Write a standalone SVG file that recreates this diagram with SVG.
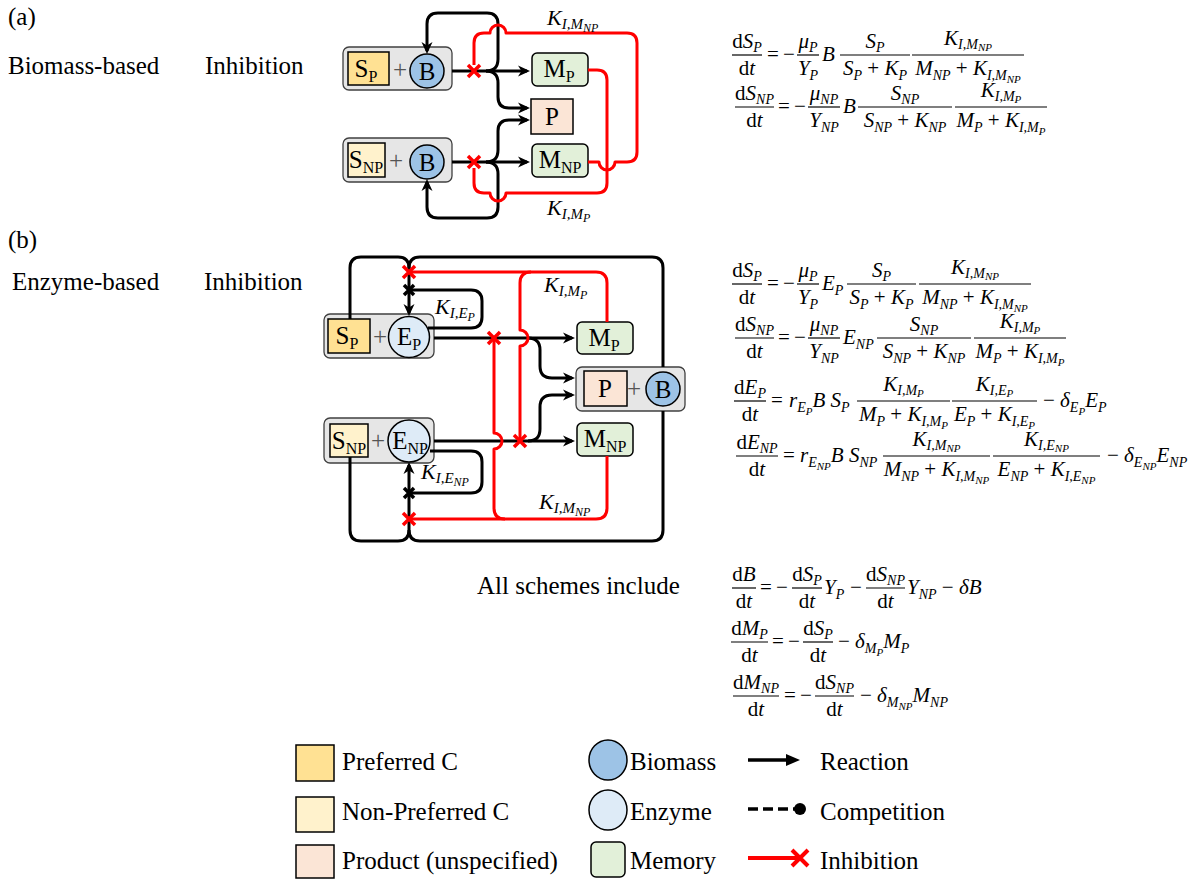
<svg xmlns="http://www.w3.org/2000/svg" width="1197" height="879" viewBox="0 0 1197 879">
<style>
.ln{fill:none;stroke:#000;stroke-width:3;stroke-linejoin:round}
.rd{fill:none;stroke:#f00;stroke-width:3;stroke-linejoin:round}
.xr{fill:none;stroke:#f00;stroke-width:3.5}
.xb{fill:none;stroke:#000;stroke-width:3.5}
.gb{fill:#e6e6e6;stroke:#404040;stroke-width:1.3}
.sp{fill:#ffe193;stroke:#000;stroke-width:1.5}
.snp{fill:#fff2cc;stroke:#000;stroke-width:1.5}
.pr{fill:#fbe5d6;stroke:#000;stroke-width:1.5}
.bm{fill:#9dc3e6;stroke:#000;stroke-width:1.5}
.ez{fill:#deebf7;stroke:#000;stroke-width:1.5}
.me{fill:#e2f0d9;stroke:#000;stroke-width:1.5}
.nl{font-family:"Liberation Serif",serif;font-size:25px;text-anchor:middle;fill:#000}
.ns{font-size:16px}
.pl{font-family:"Liberation Serif",serif;font-size:25px;text-anchor:middle;fill:#555}
.t{font-family:"Liberation Serif",serif;font-size:25px;fill:#000}
.m{font-family:"Liberation Serif",serif;font-size:21px;font-style:italic;fill:#000}
.k{font-family:"Liberation Serif",serif;font-size:22px;font-style:italic;fill:#000}
.ks{font-size:15px}
.kss{font-size:12px}
.c{text-anchor:middle}
.u{font-style:normal}
.s{font-size:14px}
.ss{font-size:11px}
.fb{stroke:#000;stroke-width:1.2}
</style>
<defs>
<marker id="ah" viewBox="0 0 12 12" refX="9" refY="6" markerWidth="12" markerHeight="12" markerUnits="userSpaceOnUse" orient="auto"><path d="M0,0.5 L12,6 L0,11.5 L3.5,6z" fill="#000"/></marker>
<path id="xx" d="M-6,-6 L6,6 M6,-6 L-6,6"/>
<path id="xs" d="M-5,-5 L5,5 M5,-5 L-5,5"/>
</defs>
<rect width="1197" height="879" fill="#fff"/>

<g id="labels">
<text class="t" x="8" y="25">(a)</text>
<text class="t" x="8" y="74">Biomass-based</text>
<text class="t" x="205" y="74">Inhibition</text>
<text class="t" x="8" y="248">(b)</text>
<text class="t" x="12" y="290">Enzyme-based</text>
<text class="t" x="204" y="290">Inhibition</text>
<text class="t" x="477" y="594">All schemes include</text>
</g>

<!-- ===== (a) nodes ===== -->
<g id="a-sp-b">
<rect class="gb" x="343" y="47" width="109" height="43" rx="6"/>
<rect class="sp" x="348" y="52" width="41" height="33"/>
<text class="nl" x="366" y="77">S<tspan class="ns" dy="5">P</tspan></text>
<text class="pl" x="400" y="78">+</text>
<circle class="bm" cx="427" cy="71" r="17"/>
<text class="nl" x="427" y="80">B</text>
</g>
<g id="a-snp-b">
<rect class="gb" x="343" y="138" width="109" height="44" rx="6"/>
<rect class="snp" x="348" y="143" width="37" height="34"/>
<text class="nl" x="366" y="168">S<tspan class="ns" dy="5">NP</tspan></text>
<text class="pl" x="396" y="169">+</text>
<circle class="bm" cx="427" cy="162" r="17"/>
<text class="nl" x="427" y="171">B</text>
</g>
<g id="a-mp">
<rect class="me" x="532" y="53" width="56" height="33" rx="5"/>
<text class="nl" x="559" y="77">M<tspan class="ns" dy="5">P</tspan></text>
</g>
<g id="a-p">
<rect class="pr" x="531" y="99" width="42" height="35"/>
<text class="nl" x="552" y="125">P</text>
</g>
<g id="a-mnp">
<rect class="me" x="532" y="144" width="56" height="33" rx="5"/>
<text class="nl" x="560" y="168">M<tspan class="ns" dy="5">NP</tspan></text>
</g>

<!-- ===== (b) nodes ===== -->
<g id="b-sp-ep">
<rect class="gb" x="324" y="314" width="110" height="44" rx="6"/>
<rect class="sp" x="328" y="319" width="42" height="34"/>
<text class="nl" x="347" y="344">S<tspan class="ns" dy="5">P</tspan></text>
<text class="pl" x="380" y="345">+</text>
<circle class="ez" cx="409" cy="337" r="20.5"/>
<text class="nl" x="409" y="345">E<tspan class="ns" dy="5">P</tspan></text>
</g>
<g id="b-snp-enp">
<rect class="gb" x="324" y="418" width="110" height="45" rx="6"/>
<rect class="snp" x="330" y="424" width="38" height="33"/>
<text class="nl" x="349" y="449">S<tspan class="ns" dy="5">NP</tspan></text>
<text class="pl" x="378" y="449">+</text>
<circle class="ez" cx="409" cy="441" r="21"/>
<text class="nl" x="410" y="449">E<tspan class="ns" dy="5">NP</tspan></text>
</g>
<g id="b-mp">
<rect class="me" x="577" y="322" width="56" height="32" rx="5"/>
<text class="nl" x="604" y="346">M<tspan class="ns" dy="5">P</tspan></text>
</g>
<g id="b-p-b">
<rect class="gb" x="576" y="367" width="109" height="44" rx="6"/>
<rect class="pr" x="584" y="371" width="43" height="35"/>
<text class="nl" x="605" y="397">P</text>
<text class="pl" x="634" y="397">+</text>
<circle class="bm" cx="663" cy="389" r="17"/>
<text class="nl" x="663" y="398">B</text>
</g>
<g id="b-mnp">
<rect class="me" x="577" y="423" width="56" height="33" rx="5"/>
<text class="nl" x="605" y="447">M<tspan class="ns" dy="5">NP</tspan></text>
</g>

<!-- ===== connectors ===== -->
<g id="connectors">
<path class="ln" d="M452,71 L527,71" marker-end="url(#ah)"/>
<path class="ln" d="M486,71 Q498,71 498,59 L498,24 Q498,13 487,13 L438,13 Q427,13 427,24 L427,51" marker-end="url(#ah)"/>
<path class="ln" d="M486,71 Q498,71 498,83 L498,97 Q498,108 509,108 L527,108" marker-end="url(#ah)"/>
<path class="ln" d="M452,162 L527,162" marker-end="url(#ah)"/>
<path class="ln" d="M486,162 Q498,162 498,150 L498,131 Q498,120 509,120 L527,120" marker-end="url(#ah)"/>
<path class="ln" d="M486,162 Q498,162 498,174 L498,207 Q498,218 487,218 L438,218 Q427,218 427,207 L427,182" marker-end="url(#ah)"/>
<path class="rd" d="M588,70 L597,70 Q607,70 607,80 L607,183 Q607,193 597,193 L506,193 A8,8 0 0 1 490,193 L484,193 Q474,193 474,183 L474,168"/>
<path class="rd" d="M588,162 L599,162 A8,8 0 0 0 615,162 L627,162 Q637,162 637,152 L637,43 Q637,33 627,33 L506,33 A8,8 0 0 0 490,33 L484,33 Q474,33 474,43 L474,65"/>
<use href="#xx" class="xr" x="474" y="71"/>
<use href="#xx" class="xr" x="474" y="162"/>

<path class="ln" d="M350,319 L350,268 Q350,257 361,257 L398,257 Q409,257 409,268"/>
<path class="ln" d="M663,367 L663,268 Q663,257 652,257 L420,257 Q409,257 409,268 L409,313" marker-end="url(#ah)"/>
<path class="ln" d="M350,457 L350,530 Q350,541 361,541 L398,541 Q409,541 409,530"/>
<path class="ln" d="M663,411 L663,530 Q663,541 652,541 L420,541 Q409,541 409,530 L409,465" marker-end="url(#ah)"/>
<path class="ln" d="M428,328 L471,328 Q482,328 482,317 L482,301 Q482,290 471,290 L409,290"/>
<path class="ln" d="M430,451 L471,451 Q482,451 482,462 L482,482 Q482,493 471,493 L409,493"/>
<path class="ln" d="M434,338 L572,338" marker-end="url(#ah)"/>
<path class="ln" d="M528,338 Q540,338 540,350 L540,366 Q540,378 552,378 L572,378" marker-end="url(#ah)"/>
<path class="ln" d="M434,441 L572,441" marker-end="url(#ah)"/>
<path class="ln" d="M528,441 Q540,441 540,429 L540,407 Q540,395 552,395 L572,395" marker-end="url(#ah)"/>
<path class="rd" d="M607,322 L607,283 Q607,272 596,272 L409,272"/>
<path class="rd" d="M531,272 Q520,272 520,283 L520,330 A8,8 0 0 1 520,346 L520,441"/>
<path class="rd" d="M607,456 L607,508 Q607,519 596,519 L409,519"/>
<path class="rd" d="M505,519 Q494,519 494,508 L494,449 A8,8 0 0 0 494,433 L494,338"/>
<use href="#xs" class="xb" x="409" y="290"/>
<use href="#xs" class="xb" x="409" y="493"/>
<use href="#xx" class="xr" x="409" y="272"/>
<use href="#xx" class="xr" x="409" y="519"/>
<use href="#xx" class="xr" x="494" y="338"/>
<use href="#xx" class="xr" x="520" y="441"/>

<text class="k" x="547" y="25">K<tspan class="ks" dy="4">I,M</tspan><tspan class="kss" dy="3">NP</tspan></text>
<text class="k" x="547" y="215">K<tspan class="ks" dy="4">I,M</tspan><tspan class="kss" dy="3">P</tspan></text>
<text class="k" x="435" y="314">K<tspan class="ks" dy="4">I,E</tspan><tspan class="kss" dy="3">P</tspan></text>
<text class="k" x="544" y="292">K<tspan class="ks" dy="4">I,M</tspan><tspan class="kss" dy="3">P</tspan></text>
<text class="k" x="421" y="479">K<tspan class="ks" dy="4">I,E</tspan><tspan class="kss" dy="3">NP</tspan></text>
<text class="k" x="539" y="509">K<tspan class="ks" dy="4">I,M</tspan><tspan class="kss" dy="3">NP</tspan></text>
</g>

<!-- ===== equations (a) ===== -->
<g id="eq-a">
<text class="m c" x="747" y="48"><tspan class="u">d</tspan>S<tspan class="s" dy="4">P</tspan></text>
<line class="fb" x1="732" y1="55" x2="762" y2="55"/>
<text class="m c" x="747" y="75"><tspan class="u">d</tspan>t</text>
<text class="m u" x="767" y="61">=</text>
<text class="m u" x="783" y="61">−</text>
<text class="m c" x="808" y="48">μ<tspan class="s" dy="4">P</tspan></text>
<line class="fb" x1="797" y1="55" x2="819" y2="55"/>
<text class="m c" x="808" y="75">Y<tspan class="s" dy="5">P</tspan></text>
<text class="m" x="822" y="61">B</text>
<text class="m c" x="875" y="48">S<tspan class="s" dy="4">P</tspan></text>
<line class="fb" x1="840" y1="55" x2="910" y2="55"/>
<text class="m c" x="875" y="75">S<tspan class="s" dy="5">P</tspan><tspan class="u" dy="-5"> + </tspan>K<tspan class="s" dy="5">P</tspan></text>
<text class="m c" x="968" y="45">K<tspan class="s" dy="4">I,M</tspan><tspan class="ss" dy="2">NP</tspan></text>
<line class="fb" x1="912" y1="55" x2="1024" y2="55"/>
<text class="m c" x="968" y="75">M<tspan class="s" dy="5">NP</tspan><tspan class="u" dy="-5"> + </tspan>K<tspan class="s" dy="5">I,M</tspan><tspan class="ss" dy="3">NP</tspan></text>

<text class="m c" x="754.5" y="100"><tspan class="u">d</tspan>S<tspan class="s" dy="4">NP</tspan></text>
<line class="fb" x1="735" y1="107" x2="774" y2="107"/>
<text class="m c" x="754.5" y="127"><tspan class="u">d</tspan>t</text>
<text class="m u" x="778" y="113">=</text>
<text class="m u" x="794" y="113">−</text>
<text class="m c" x="824" y="100">μ<tspan class="s" dy="4">NP</tspan></text>
<line class="fb" x1="808" y1="107" x2="840" y2="107"/>
<text class="m c" x="824" y="127">Y<tspan class="s" dy="5">NP</tspan></text>
<text class="m" x="843" y="113">B</text>
<text class="m c" x="905" y="100">S<tspan class="s" dy="4">NP</tspan></text>
<line class="fb" x1="858" y1="107" x2="952" y2="107"/>
<text class="m c" x="905" y="127">S<tspan class="s" dy="5">NP</tspan><tspan class="u" dy="-5"> + </tspan>K<tspan class="s" dy="5">NP</tspan></text>
<text class="m c" x="1001" y="97">K<tspan class="s" dy="4">I,M</tspan><tspan class="ss" dy="2">P</tspan></text>
<line class="fb" x1="955" y1="107" x2="1047" y2="107"/>
<text class="m c" x="1001" y="127">M<tspan class="s" dy="5">P</tspan><tspan class="u" dy="-5"> + </tspan>K<tspan class="s" dy="5">I,M</tspan><tspan class="ss" dy="3">P</tspan></text>
</g>

<!-- ===== equations (b) ===== -->
<g id="eq-b">
<text class="m c" x="747" y="277"><tspan class="u">d</tspan>S<tspan class="s" dy="4">P</tspan></text>
<line class="fb" x1="732" y1="284" x2="762" y2="284"/>
<text class="m c" x="747" y="304"><tspan class="u">d</tspan>t</text>
<text class="m u" x="767" y="290">=</text>
<text class="m u" x="783" y="290">−</text>
<text class="m c" x="808" y="277">μ<tspan class="s" dy="4">P</tspan></text>
<line class="fb" x1="797" y1="284" x2="819" y2="284"/>
<text class="m c" x="808" y="304">Y<tspan class="s" dy="5">P</tspan></text>
<text class="m" x="822" y="290">E<tspan class="s" dy="5">P</tspan></text>
<text class="m c" x="881.5" y="277">S<tspan class="s" dy="4">P</tspan></text>
<line class="fb" x1="847" y1="284" x2="916" y2="284"/>
<text class="m c" x="881.5" y="304">S<tspan class="s" dy="5">P</tspan><tspan class="u" dy="-5"> + </tspan>K<tspan class="s" dy="5">P</tspan></text>
<text class="m c" x="975" y="274">K<tspan class="s" dy="4">I,M</tspan><tspan class="ss" dy="2">NP</tspan></text>
<line class="fb" x1="919" y1="284" x2="1031" y2="284"/>
<text class="m c" x="975" y="304">M<tspan class="s" dy="5">NP</tspan><tspan class="u" dy="-5"> + </tspan>K<tspan class="s" dy="5">I,M</tspan><tspan class="ss" dy="3">NP</tspan></text>

<text class="m c" x="754.5" y="331"><tspan class="u">d</tspan>S<tspan class="s" dy="4">NP</tspan></text>
<line class="fb" x1="735" y1="338" x2="774" y2="338"/>
<text class="m c" x="754.5" y="358"><tspan class="u">d</tspan>t</text>
<text class="m u" x="778" y="344">=</text>
<text class="m u" x="794" y="344">−</text>
<text class="m c" x="824" y="331">μ<tspan class="s" dy="4">NP</tspan></text>
<line class="fb" x1="808" y1="338" x2="840" y2="338"/>
<text class="m c" x="824" y="358">Y<tspan class="s" dy="5">NP</tspan></text>
<text class="m" x="843" y="344">E<tspan class="s" dy="5">NP</tspan></text>
<text class="m c" x="924" y="331">S<tspan class="s" dy="4">NP</tspan></text>
<line class="fb" x1="877" y1="338" x2="971" y2="338"/>
<text class="m c" x="924" y="358">S<tspan class="s" dy="5">NP</tspan><tspan class="u" dy="-5"> + </tspan>K<tspan class="s" dy="5">NP</tspan></text>
<text class="m c" x="1020" y="328">K<tspan class="s" dy="4">I,M</tspan><tspan class="ss" dy="2">P</tspan></text>
<line class="fb" x1="974" y1="338" x2="1066" y2="338"/>
<text class="m c" x="1020" y="358">M<tspan class="s" dy="5">P</tspan><tspan class="u" dy="-5"> + </tspan>K<tspan class="s" dy="5">I,M</tspan><tspan class="ss" dy="3">P</tspan></text>

<text class="m c" x="750" y="394"><tspan class="u">d</tspan>E<tspan class="s" dy="4">P</tspan></text>
<line class="fb" x1="734" y1="401" x2="766" y2="401"/>
<text class="m c" x="750" y="421"><tspan class="u">d</tspan>t</text>
<text class="m u" x="771" y="407">=</text>
<text class="m" x="789" y="407">r<tspan class="s" dy="5">E</tspan><tspan class="ss" dy="3">P</tspan><tspan dy="-8">B S</tspan><tspan class="s" dy="5">P</tspan></text>
<text class="m c" x="903.5" y="391">K<tspan class="s" dy="4">I,M</tspan><tspan class="ss" dy="2">P</tspan></text>
<line class="fb" x1="857" y1="401" x2="950" y2="401"/>
<text class="m c" x="903.5" y="421">M<tspan class="s" dy="5">P</tspan><tspan class="u" dy="-5"> + </tspan>K<tspan class="s" dy="5">I,M</tspan><tspan class="ss" dy="3">P</tspan></text>
<text class="m c" x="994.5" y="391">K<tspan class="s" dy="4">I,E</tspan><tspan class="ss" dy="2">P</tspan></text>
<line class="fb" x1="952" y1="401" x2="1037" y2="401"/>
<text class="m c" x="994.5" y="421">E<tspan class="s" dy="5">P</tspan><tspan class="u" dy="-5"> + </tspan>K<tspan class="s" dy="5">I,E</tspan><tspan class="ss" dy="3">P</tspan></text>
<text class="m" x="1043" y="407"><tspan class="u">− </tspan>δ<tspan class="s" dy="5">E</tspan><tspan class="ss" dy="3">P</tspan><tspan dy="-8">E</tspan><tspan class="s" dy="5">P</tspan></text>

<text class="m c" x="757" y="449"><tspan class="u">d</tspan>E<tspan class="s" dy="4">NP</tspan></text>
<line class="fb" x1="736" y1="456" x2="778" y2="456"/>
<text class="m c" x="757" y="476"><tspan class="u">d</tspan>t</text>
<text class="m u" x="783" y="462">=</text>
<text class="m" x="800" y="462">r<tspan class="s" dy="5">E</tspan><tspan class="ss" dy="3">NP</tspan><tspan dy="-8">B S</tspan><tspan class="s" dy="5">NP</tspan></text>
<text class="m c" x="936.5" y="446">K<tspan class="s" dy="4">I,M</tspan><tspan class="ss" dy="2">NP</tspan></text>
<line class="fb" x1="883" y1="456" x2="990" y2="456"/>
<text class="m c" x="936.5" y="476">M<tspan class="s" dy="5">NP</tspan><tspan class="u" dy="-5"> + </tspan>K<tspan class="s" dy="5">I,M</tspan><tspan class="ss" dy="3">NP</tspan></text>
<text class="m c" x="1046.5" y="446">K<tspan class="s" dy="4">I,E</tspan><tspan class="ss" dy="2">NP</tspan></text>
<line class="fb" x1="993" y1="456" x2="1100" y2="456"/>
<text class="m c" x="1046.5" y="476">E<tspan class="s" dy="5">NP</tspan><tspan class="u" dy="-5"> + </tspan>K<tspan class="s" dy="5">I,E</tspan><tspan class="ss" dy="3">NP</tspan></text>
<text class="m" x="1107" y="462"><tspan class="u">− </tspan>δ<tspan class="s" dy="5">E</tspan><tspan class="ss" dy="3">NP</tspan><tspan dy="-8">E</tspan><tspan class="s" dy="5">NP</tspan></text>
</g>

<!-- ===== common equations ===== -->
<g id="eq-all">
<text class="m c" x="744" y="581"><tspan class="u">d</tspan>B</text>
<line class="fb" x1="732" y1="588" x2="756" y2="588"/>
<text class="m c" x="744" y="608"><tspan class="u">d</tspan>t</text>
<text class="m u" x="760" y="594">=</text>
<text class="m u" x="776" y="594">−</text>
<text class="m c" x="807" y="581"><tspan class="u">d</tspan>S<tspan class="s" dy="4">P</tspan></text>
<line class="fb" x1="792" y1="588" x2="822" y2="588"/>
<text class="m c" x="807" y="608"><tspan class="u">d</tspan>t</text>
<text class="m" x="824" y="594">Y<tspan class="s" dy="5">P</tspan></text>
<text class="m u" x="850" y="594">−</text>
<text class="m c" x="885.5" y="581"><tspan class="u">d</tspan>S<tspan class="s" dy="4">NP</tspan></text>
<line class="fb" x1="866" y1="588" x2="905" y2="588"/>
<text class="m c" x="885.5" y="608"><tspan class="u">d</tspan>t</text>
<text class="m" x="907" y="594">Y<tspan class="s" dy="5">NP</tspan><tspan class="u" dy="-5"> − </tspan>δB</text>

<text class="m c" x="749.5" y="635"><tspan class="u">d</tspan>M<tspan class="s" dy="4">P</tspan></text>
<line class="fb" x1="731" y1="642" x2="768" y2="642"/>
<text class="m c" x="749.5" y="662"><tspan class="u">d</tspan>t</text>
<text class="m u" x="772" y="648">=</text>
<text class="m u" x="788" y="648">−</text>
<text class="m c" x="818" y="635"><tspan class="u">d</tspan>S<tspan class="s" dy="4">P</tspan></text>
<line class="fb" x1="803" y1="642" x2="833" y2="642"/>
<text class="m c" x="818" y="662"><tspan class="u">d</tspan>t</text>
<text class="m" x="838" y="648"><tspan class="u">− </tspan>δ<tspan class="s" dy="5">M</tspan><tspan class="ss" dy="3">P</tspan><tspan dy="-8">M</tspan><tspan class="s" dy="5">P</tspan></text>

<text class="m c" x="756" y="689"><tspan class="u">d</tspan>M<tspan class="s" dy="4">NP</tspan></text>
<line class="fb" x1="733" y1="696" x2="779" y2="696"/>
<text class="m c" x="756" y="716"><tspan class="u">d</tspan>t</text>
<text class="m u" x="784" y="702">=</text>
<text class="m u" x="800" y="702">−</text>
<text class="m c" x="834.5" y="689"><tspan class="u">d</tspan>S<tspan class="s" dy="4">NP</tspan></text>
<line class="fb" x1="815" y1="696" x2="854" y2="696"/>
<text class="m c" x="834.5" y="716"><tspan class="u">d</tspan>t</text>
<text class="m" x="860" y="702"><tspan class="u">− </tspan>δ<tspan class="s" dy="5">M</tspan><tspan class="ss" dy="3">NP</tspan><tspan dy="-8">M</tspan><tspan class="s" dy="5">NP</tspan></text>
</g>

<!-- ===== legend ===== -->
<g id="legend">
<rect class="sp" x="296" y="745" width="38" height="36"/>
<text class="t" x="342" y="770">Preferred C</text>
<rect class="snp" x="296" y="797" width="38" height="35"/>
<text class="t" x="342" y="820">Non-Preferred C</text>
<rect class="pr" x="296" y="845" width="38" height="33"/>
<text class="t" x="342" y="869">Product (unspecified)</text>
<ellipse class="bm" cx="608" cy="760" rx="19" ry="20"/>
<text class="t" x="630" y="770">Biomass</text>
<ellipse class="ez" cx="608" cy="810" rx="19" ry="20"/>
<text class="t" x="630" y="820">Enzyme</text>
<rect class="me" x="591" y="842" width="34" height="35" rx="5"/>
<text class="t" x="630" y="869">Memory</text>
<line x1="748" y1="760" x2="790" y2="760" stroke="#000" stroke-width="3.5"/>
<polygon points="786,754 800,760 786,766" fill="#000"/>
<text class="t" x="820" y="770">Reaction</text>
<line x1="748" y1="809" x2="798" y2="809" stroke="#000" stroke-width="3.5" stroke-dasharray="10,5"/>
<circle cx="800" cy="809" r="6" fill="#000"/>
<text class="t" x="820" y="820">Competition</text>
<line x1="748" y1="858" x2="800" y2="858" stroke="#f00" stroke-width="4"/>
<path d="M792,850 L808,866 M808,850 L792,866" stroke="#f00" stroke-width="4"/>
<text class="t" x="820" y="869">Inhibition</text>
</g>
</svg>
